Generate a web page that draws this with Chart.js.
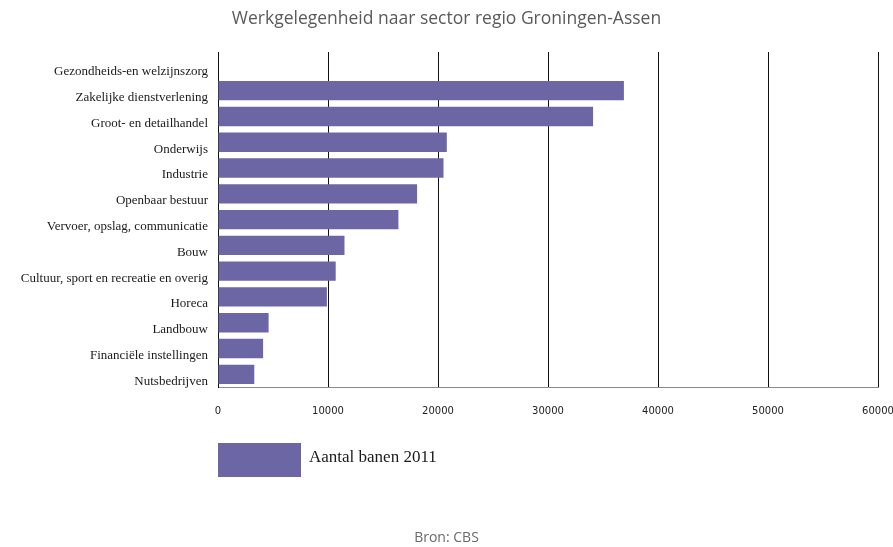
<!DOCTYPE html>
<html>
<head>
<meta charset="utf-8">
<script src="https://cdn.jsdelivr.net/npm/chart.js@4"></script>
<style>
  html, body { margin: 0; padding: 0; background: #fff; }
  #wrap { width: 893px; height: 547px; position: relative; }
</style>
</head>
<body>
<div id="wrap"><canvas id="sectorChart"></canvas></div>
<script>
const sectoren = [
    'Gezondheids-en welzijnszorg', 'Zakelijke dienstverlening', 'Groot- en detailhandel',
    'Onderwijs', 'Industrie', 'Openbaar bestuur', 'Vervoer, opslag, communicatie', 'Bouw',
    'Cultuur, sport en recreatie en overig', 'Horeca', 'Landbouw', 'Financiële instellingen',
    'Nutsbedrijven'
];
const banen2011 = [null, 36900, 34100, 20800, 20500, 18100, 16400, 11500, 10700, 9900, 4600, 4100, 3300];
const xTicks = [0, 10000, 20000, 30000, 40000, 50000, 60000];

const paars = '#6c66a5';

// legend block under the axis, aligned with the plot's left edge
const blokLegenda = {
    id: 'blokLegenda',
    afterDraw(chart) {
        const ctx = chart.ctx;
        const ds = chart.data.datasets[0];
        const x = chart.chartArea.left;
        ctx.save();
        ctx.fillStyle = ds.backgroundColor;
        ctx.fillRect(x, 443, 83, 34);
        ctx.fillStyle = '#1a1a1a';
        ctx.font = '17px "Liberation Serif"';
        ctx.textBaseline = 'middle';
        ctx.fillText(ds.label, x + 91, 458);
        ctx.restore();
    }
};

document.addEventListener('DOMContentLoaded', function () {
    new Chart(document.getElementById('sectorChart').getContext('2d'), {
        type: 'bar',
        data: { labels: sectoren, datasets: [{
            label: 'Aantal banen 2011', data: banen2011, backgroundColor: paars,
            categoryPercentage: 1, barPercentage: 0.75
        }]},
        options: {
            indexAxis: 'y', responsive: true, maintainAspectRatio: false, animation: false,
            layout: { padding: { left: 0, right: 0, top: 0, bottom: 0 } },
            plugins: {
                legend: { display: false },
                tooltip: { enabled: false },
                title: {
                    display: true, text: 'Werkgelegenheid naar sector regio Groningen-Assen',
                    color: '#5a5a5a', font: { family: '"Open Sans"', size: 17.5, weight: 'normal' },
                    padding: { top: 9, bottom: 22 }
                },
                subtitle: {
                    display: true, position: 'bottom', text: 'Bron: CBS',
                    color: '#6a6a6a', font: { family: '"Open Sans"', size: 14, weight: 'normal' },
                    padding: { top: 94, bottom: 1 }
                }
            },
            scales: {
                x: {
                    min: 0, max: 60000,
                    afterBuildTicks: function (scale) { scale.ticks = xTicks.map(v => ({ value: v })); },
                    // last label may run off the edge, keep the plot wide
                    afterFit: function (scale) { scale.paddingRight = 15; },
                    grid: { color: '#111', lineWidth: 1, drawTicks: false },
                    border: { color: '#888', width: 1 },
                    ticks: { color: '#222', padding: 18, maxRotation: 0,
                        callback: v => String(v),
                        font: { family: '"DejaVu Sans"', size: 10 } }
                },
                y: {
                    afterFit: function (scale) { scale.width = 218; },
                    grid: { display: false, drawTicks: false },
                    border: { color: '#111', width: 1 },
                    ticks: { color: '#1a1a1a', padding: 10, labelOffset: 7, autoSkip: false,
                        font: { family: '"Liberation Serif"', size: 13 } }
                }
            }
        },
        plugins: [blokLegenda]
    });
});
</script>
</body>
</html>
